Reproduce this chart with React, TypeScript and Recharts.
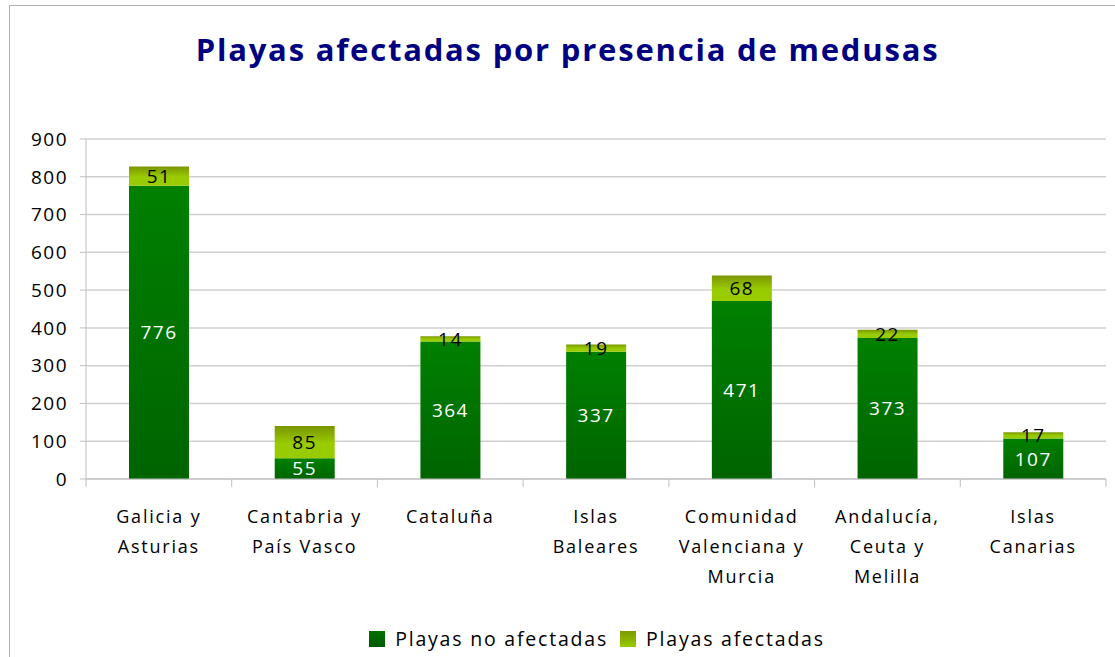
import React from "react";
import { BarChart, Bar, XAxis, YAxis, CartesianGrid, LabelList, Legend } from "recharts";

const categories = [
  "Galicia y\nAsturias",
  "Cantabria y\nPaís Vasco",
  "Cataluña",
  "Islas\nBaleares",
  "Comunidad\nValenciana y\nMurcia",
  "Andalucía,\nCeuta y\nMelilla",
  "Islas\nCanarias",
];
const noAfectadas = [776, 55, 364, 337, 471, 373, 107];
const afectadas = [51, 85, 14, 19, 68, 22, 17];
const yTicks = [0, 100, 200, 300, 400, 500, 600, 700, 800, 900];

const data = categories.map((c, i) => ({
  name: c,
  noAfectadas: noAfectadas[i],
  afectadas: afectadas[i],
}));

const FONT = "'Open Sans', 'DejaVu Sans', sans-serif";
const W = 1115;
const H = 657;
const LEFT = 86;
const RIGHT = 9;
const BAND = (W - LEFT - RIGHT) / categories.length;

const CatTick = (props: any) => {
  const { x, y, payload, index } = props;
  const lines = String(payload.value).split("\n");
  const half = BAND / 2;
  return (
    <g>
      <line x1={x - half} x2={x - half} y1={y - 8} y2={y} stroke="#bfbfbf" />
      {index === categories.length - 1 && (
        <line x1={x + half} x2={x + half} y1={y - 8} y2={y} stroke="#bfbfbf" />
      )}
      <text x={x} y={y + 36} textAnchor="middle" fontSize={18} fill="#000" fontFamily={FONT} letterSpacing={1.8}>
        {lines.map((l: string, i: number) => (
          <tspan key={i} x={x} dy={i === 0 ? 0 : 30}>
            {l}
          </tspan>
        ))}
      </text>
    </g>
  );
};

const LegendContent = () => (
  <div
    style={{
      display: "flex",
      justifyContent: "center",
      alignItems: "center",
      fontFamily: FONT,
      fontSize: 19.5,
      color: "#000",
      letterSpacing: 1.8,
      paddingLeft: 88,
    }}
  >
    <span style={{ display: "inline-block", width: 16, height: 16, background: "linear-gradient(#007000,#005a00)", marginRight: 10 }} />
    <span style={{ marginRight: 12 }}>Playas no afectadas</span>
    <span style={{ display: "inline-block", width: 16, height: 16, background: "linear-gradient(#7a9a00,#99cc00)", marginRight: 10 }} />
    <span>Playas afectadas</span>
  </div>
);

export default function App() {
  return (
    <div style={{ position: "absolute", left: 0, top: 0, width: W, height: H, background: "#fff", overflow: "hidden" }}>
      <div
        style={{
          position: "absolute",
          left: 9,
          top: 5,
          width: W,
          height: H + 20,
          border: "1.5px solid #b0b0b0",
          boxSizing: "border-box",
        }}
      />
      <div
        style={{
          position: "absolute",
          left: 0,
          top: 28,
          width: W + 20,
          textAlign: "center",
          fontFamily: FONT,
          fontWeight: 700,
          fontSize: 31,
          color: "#000080",
          letterSpacing: 1.8,
        }}
      >
        Playas afectadas por presencia de medusas
      </div>
      <div style={{ position: "absolute", left: 0, top: 0 }}>
        <BarChart
          width={W}
          height={H}
          data={data}
          margin={{ top: 139, right: RIGHT, left: 0, bottom: 0 }}
          barSize={60}
        >
          <defs>
            <linearGradient id="gDark" x1="0" y1="0" x2="0" y2="1">
              <stop offset="0%" stopColor="#008000" />
              <stop offset="100%" stopColor="#006400" />
            </linearGradient>
            <linearGradient id="gLight" x1="0" y1="0" x2="0" y2="1">
              <stop offset="0%" stopColor="#7a9600" />
              <stop offset="55%" stopColor="#99cc00" />
              <stop offset="100%" stopColor="#99cc00" />
            </linearGradient>
          </defs>
          <CartesianGrid vertical={false} stroke="#d0d0d0" strokeWidth={1.5} />
          <XAxis
            dataKey="name"
            interval={0}
            height={151}
            tick={<CatTick />}
            tickLine={false}
            axisLine={{ stroke: "#bfbfbf" }}
          />
          <YAxis
            width={LEFT}
            domain={[0, 900]}
            ticks={yTicks}
            interval={0}
            tickSize={6}
            tickMargin={12}
            tick={{ fontSize: 19, fill: "#000", fontFamily: FONT, letterSpacing: 1.5 }}
            tickLine={{ stroke: "#bfbfbf" }}
            axisLine={{ stroke: "#bfbfbf" }}
          />
          <Legend verticalAlign="bottom" content={<LegendContent />} wrapperStyle={{ bottom: 5 }} />
          <Bar dataKey="noAfectadas" stackId="a" fill="url(#gDark)" isAnimationActive={false}>
            <LabelList dataKey="noAfectadas" position="center" fill="#fff" fontSize={19} fontFamily={FONT} letterSpacing={1.5} />
          </Bar>
          <Bar dataKey="afectadas" stackId="a" fill="url(#gLight)" isAnimationActive={false}>
            <LabelList dataKey="afectadas" position="center" fill="#000" fontSize={19} fontFamily={FONT} letterSpacing={1.5} />
          </Bar>
        </BarChart>
      </div>
    </div>
  );
}
